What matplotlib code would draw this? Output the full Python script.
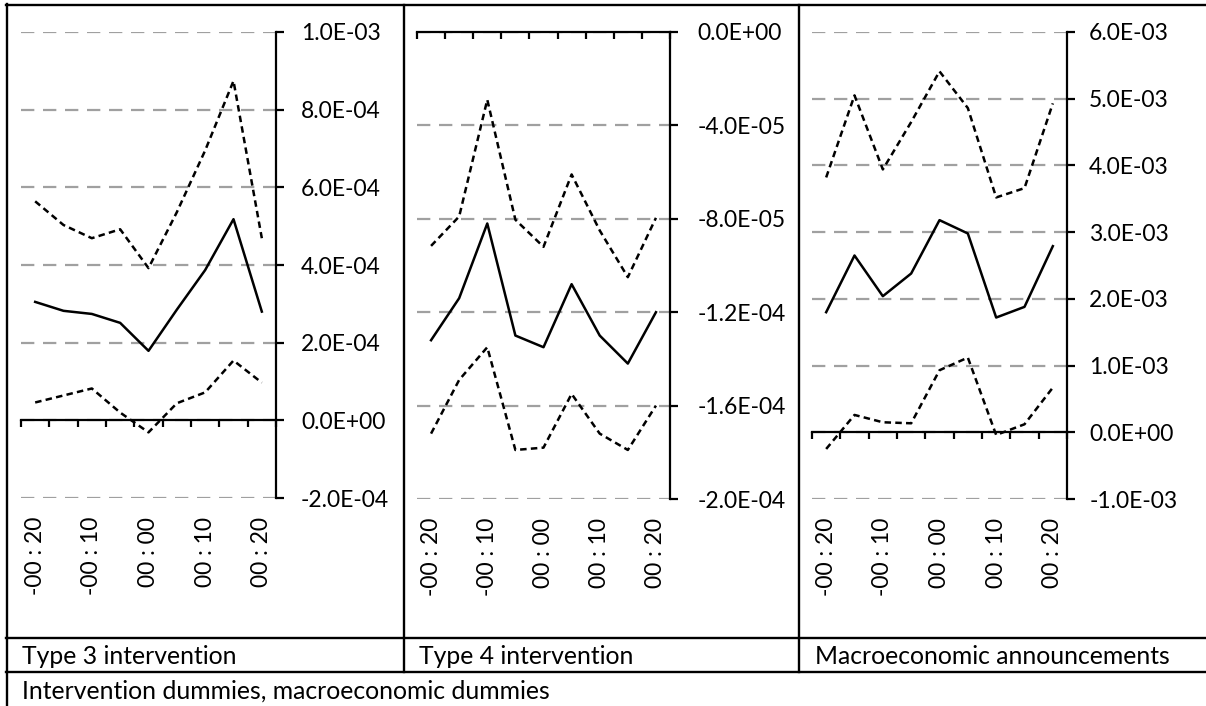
import matplotlib
matplotlib.use("Agg")
import matplotlib.pyplot as plt
from matplotlib.lines import Line2D
from matplotlib.ticker import FixedLocator, FuncFormatter
import matplotlib.transforms as mtransforms

plt.rcParams['font.family'] = ['Lato', 'DejaVu Sans']

# ---------------- data ----------------
categories = ['-00 : 20', '-00 : 15', '-00 : 10', '-00 : 05', '00 : 00',
              '00 : 05', '00 : 10', '00 : 15', '00 : 20']

t3_upper = [5.64e-4, 5.03e-4, 4.69e-4, 4.92e-4, 3.92e-4, 5.36e-4, 6.95e-4, 8.74e-4, 4.69e-4]
t3_mid   = [3.05e-4, 2.82e-4, 2.74e-4, 2.51e-4, 1.79e-4, 2.85e-4, 3.87e-4, 5.18e-4, 2.80e-4]
t3_lower = [4.6e-5, 6.4e-5, 8.2e-5, 2.0e-5, -3.1e-5, 4.4e-5, 7.2e-5, 1.54e-4, 9.7e-5]

t4_upper = [-9.16e-5, -7.9e-5, -2.9e-5, -8.04e-5, -9.2e-5, -6.1e-5, -8.5e-5, -1.05e-4, -7.96e-5]
t4_mid   = [-1.32e-4, -1.14e-4, -8.2e-5, -1.30e-4, -1.35e-4, -1.08e-4, -1.30e-4, -1.42e-4, -1.20e-4]
t4_lower = [-1.72e-4, -1.49e-4, -1.35e-4, -1.79e-4, -1.78e-4, -1.55e-4, -1.72e-4, -1.79e-4, -1.60e-4]

ma_upper = [3.82e-3, 5.05e-3, 3.94e-3, 4.65e-3, 5.41e-3, 4.86e-3, 3.52e-3, 3.66e-3, 4.93e-3]
ma_mid   = [1.80e-3, 2.65e-3, 2.04e-3, 2.38e-3, 3.18e-3, 2.98e-3, 1.72e-3, 1.88e-3, 2.79e-3]
ma_lower = [-2.5e-4, 2.6e-4, 1.5e-4, 1.35e-4, 9.3e-4, 1.12e-3, -4.0e-5, 1.2e-4, 6.7e-4]

t3_yticks = [-2e-4, 0.0, 2e-4, 4e-4, 6e-4, 8e-4, 1e-3]
t4_yticks = [-2e-4, -1.6e-4, -1.2e-4, -8e-5, -4e-5, 0.0]
ma_yticks = [-1e-3, 0.0, 1e-3, 2e-3, 3e-3, 4e-3, 5e-3, 6e-3]

panel_titles = ['Type 3 intervention', 'Type 4 intervention', 'Macroeconomic announcements']
footer = 'Intervention dummies, macroeconomic dummies'

# ---------------- figure ----------------
W, H = 1206, 706
fig = plt.figure(figsize=(W / 100, H / 100), dpi=100)
fig.patch.set_facecolor('white')

FS = 16.5
FS_ROW = 17.8
GRID = '#a0a0a0'

def rect(x0, x1, ytop, ybot):
    return [x0 / W, 1 - ybot / H, (x1 - x0) / W, (ybot - ytop) / H]

panels = [
    (rect(21, 276, 32, 498), t3_upper, t3_mid, t3_lower, t3_yticks, 12),
    (rect(417, 670, 32, 499), t4_upper, t4_mid, t4_lower, t4_yticks, 14),
    (rect(812, 1067, 32, 499), ma_upper, ma_mid, ma_lower, ma_yticks, 10),
]

xs = list(range(1, len(categories) + 1))
fmt = FuncFormatter(lambda v, p: f"{v:.1E}")
LW = 1.8

for pos, up, mid, lo, yt, pad in panels:
    ax = fig.add_axes(pos)
    ax.set_facecolor('none')
    ax.set_xlim(0.5, len(categories) + 0.5)
    ax.set_ylim(yt[0], yt[-1])
    for v in yt:
        ax.axhline(v, color=GRID, lw=1.6, ls=(0, (6.0, 3.9)), zorder=1)
    ax.plot(xs, up, color='black', lw=LW, ls=(0, (2.6, 1.7)), zorder=3)
    ax.plot(xs, mid, color='black', lw=LW, ls='-', zorder=3)
    ax.plot(xs, lo, color='black', lw=LW, ls=(0, (2.6, 1.7)), zorder=3)

    for s in ['top', 'left']:
        ax.spines[s].set_visible(False)
    ax.spines['right'].set_linewidth(1.6)
    ax.spines['bottom'].set_linewidth(1.6)
    ax.spines['bottom'].set_position(('data', 0.0))
    ax.spines['bottom'].set_zorder(4)

    ax.yaxis.tick_right()
    ax.yaxis.set_major_locator(FixedLocator(yt))
    ax.yaxis.set_major_formatter(fmt)
    ax.tick_params(axis='y', direction='out', length=6, width=1.6,
                   labelsize=FS, pad=pad, colors='black')

    ax.xaxis.set_major_locator(FixedLocator([i + 0.5 for i in range(0, len(categories) + 1)]))
    ax.tick_params(axis='x', direction='out', length=5, width=1.6, labelbottom=False)

    base = mtransforms.blended_transform_factory(ax.transData, ax.transAxes)
    tr = mtransforms.offset_copy(base, fig=fig, x=0, y=-19, units='dots')
    for i, c in enumerate(categories):
        if i % 2 == 0:
            ax.text(xs[i], 0, c, transform=tr, rotation=90, ha='center', va='top',
                    fontsize=FS, color='black')

# ---------------- table lines ----------------
def hline(y, x0, x1):
    fig.add_artist(Line2D([x0 / W, x1 / W], [1 - y / H, 1 - y / H], color='black', lw=1.7))

def vline(x, y0, y1):
    fig.add_artist(Line2D([x / W, x / W], [1 - y0 / H, 1 - y1 / H], color='black', lw=1.7))

hline(5, 6, W)
hline(638, 6, W)
hline(672, 6, W)
vline(7, 4, H)
vline(404, 5, 672)
vline(799, 5, 672)

for x, t in zip([22, 419, 815], panel_titles):
    fig.text(x / W, 1 - 656 / H, t, ha='left', va='center', fontsize=FS_ROW, color='black')
fig.text(22 / W, 1 - 691 / H, footer, ha='left', va='center', fontsize=FS_ROW, color='black')

fig.savefig('out.png', dpi=100, facecolor='white')
